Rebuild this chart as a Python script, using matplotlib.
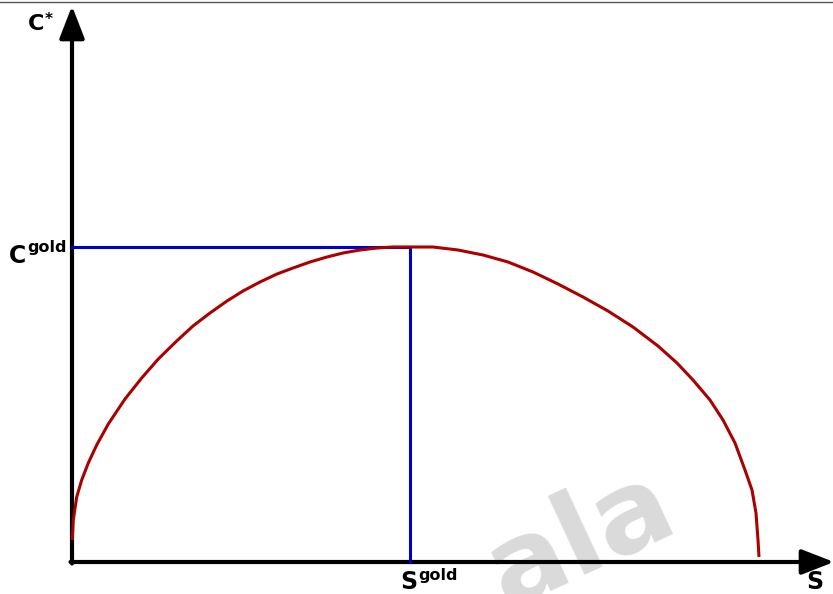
import matplotlib
matplotlib.use("Agg")
import matplotlib.pyplot as plt

# curve (S, C*)
S_curve = [0.3, 1.3, 4.7, 9.7, 16.3, 24.7, 36.3, 53, 69.7, 86.3, 104.7, 121, 138,
           155, 171, 188, 205, 221, 238, 255, 271, 288, 305, 321, 338, 361, 386,
           411, 436, 461, 486, 511, 536, 561, 586, 605, 621, 638, 651, 663, 673,
           680, 684, 686, 687]
C_curve = [22, 42, 65, 82, 99, 117, 138, 163, 184, 203, 221, 236, 249,
           261, 271, 280, 288, 294, 300, 305, 309, 312, 314, 315, 315, 315, 312,
           307, 300, 290, 278, 265, 251, 235, 216, 199, 182, 162, 142, 119, 92,
           72, 49, 22, 5]
S_gold = 338
C_gold = 315
x_max = 762
y_max = 556

fig = plt.figure(figsize=(8.33, 5.94), dpi=100)
ax = fig.add_axes([0, 0, 1, 1])
ax.set_xlim(-72, 761)
ax.set_ylim(-32, 562)
ax.axis('off')

# top border line
ax.plot([-72, 761], [560, 560], color='#555555', lw=1.0)

# watermark
ax.text(508, 22, 'ala', fontsize=82, fontweight='bold', color='#dadada',
        rotation=25, ha='center', va='center', zorder=0)

# axes with arrows
style = '-|>,head_length=0.9,head_width=0.35'
ax.annotate('', xy=(0, y_max), xytext=(0, -1.5), annotation_clip=False,
            arrowprops=dict(arrowstyle=style, lw=3, color='black',
                            mutation_scale=22, shrinkA=0, shrinkB=0))
ax.annotate('', xy=(x_max, 0), xytext=(-1.5, 0), annotation_clip=False,
            arrowprops=dict(arrowstyle=style, lw=3, color='black',
                            mutation_scale=22, shrinkA=0, shrinkB=0))

# blue guide lines
ax.plot([0, S_gold], [C_gold, C_gold], color='#0000cc', lw=2.2, zorder=3)
ax.plot([S_gold, S_gold], [C_gold, 0], color='#0000cc', lw=2.2, zorder=3)

# red curve
ax.plot(S_curve, C_curve, color='#aa0000', lw=2.2, zorder=4,
        solid_capstyle='butt', solid_joinstyle='round')

fb = dict(fontweight='bold', color='black', family='DejaVu Sans')
# C*
ax.text(-44, 532, 'C', fontsize=16, ha='left', va='baseline', **fb)
ax.text(-27, 538, '*', fontsize=11, ha='left', va='baseline', **fb)
# C gold
ax.text(-63, 299, 'C', fontsize=17, ha='left', va='baseline', **fb)
ax.text(-45, 310, 'gold', fontsize=11.5, ha='left', va='baseline', **fb)
# S gold
ax.text(328, -27, 'S', fontsize=17, ha='left', va='baseline', **fb)
ax.text(346, -18, 'gold', fontsize=11.5, ha='left', va='baseline', **fb)
# S
ax.text(734, -27, 'S', fontsize=17, ha='left', va='baseline', **fb)

fig.savefig('out.png', dpi=100)
